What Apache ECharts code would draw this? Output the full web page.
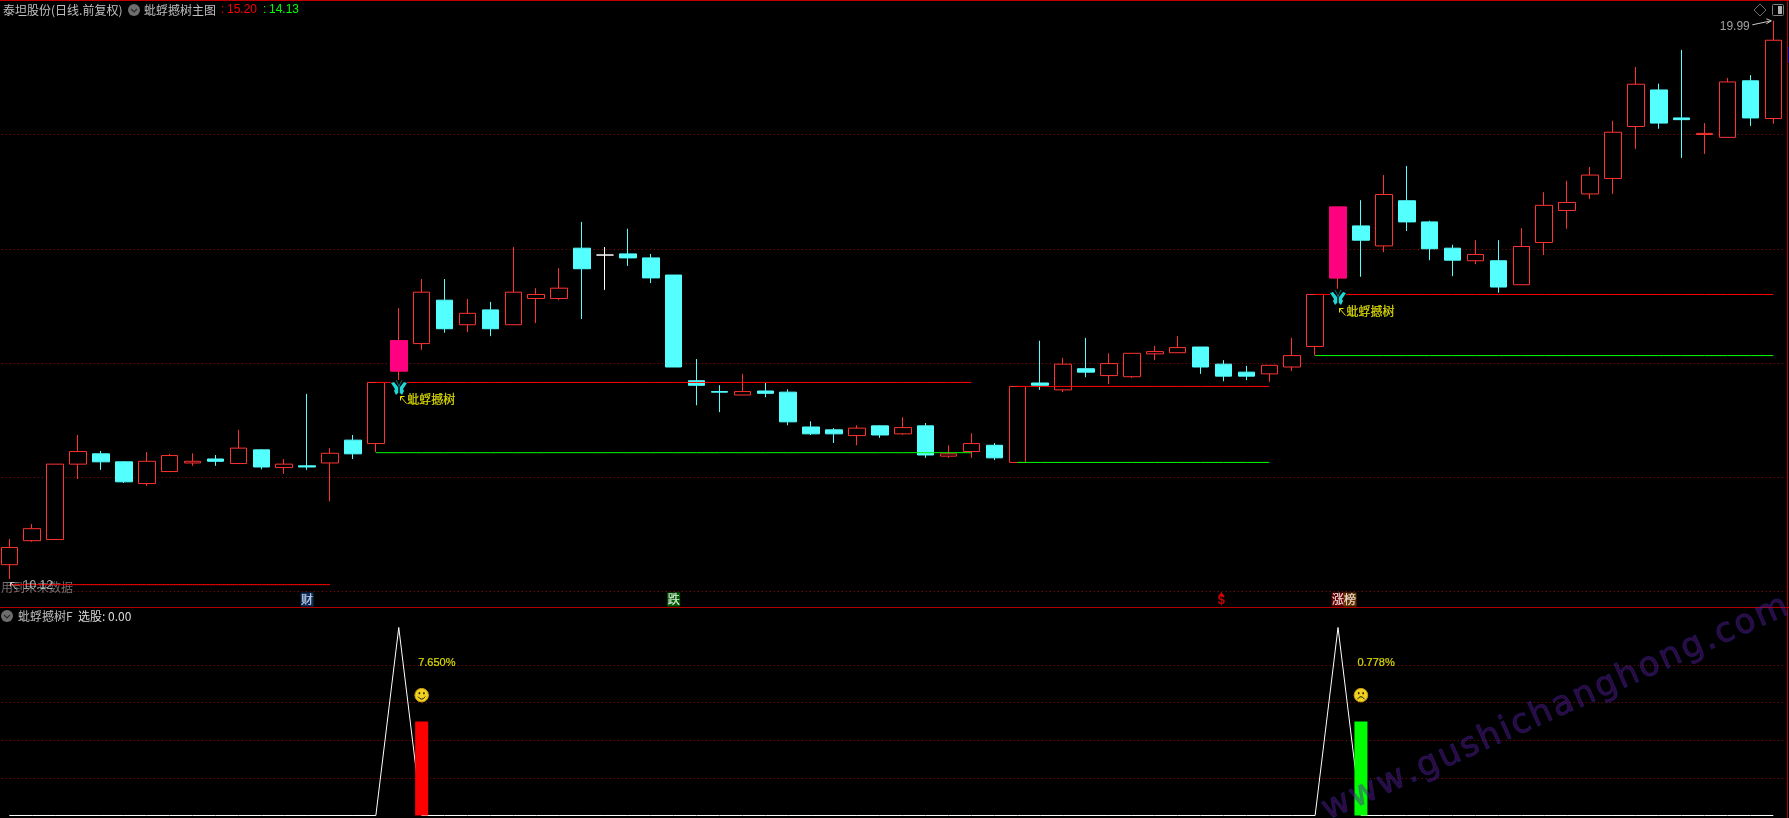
<!DOCTYPE html>
<html><head><meta charset="utf-8">
<style>html,body{margin:0;padding:0;background:#000;overflow:hidden}#c{width:1789px;height:818px}</style>
<script src="https://cdn.jsdelivr.net/npm/echarts@6/dist/echarts.min.js"></script>
</head><body><div id="c"></div>
<script>
const opens=[10.47,10.89,10.91,12.23,12.41,12.27,11.89,12.10,12.25,12.32,12.24,12.48,12.17,12.20,12.25,12.65,12.59,13.86,14.34,15.10,14.67,14.93,14.67,15.13,15.13,16.01,15.89,15.91,15.84,15.54,13.69,13.50,13.44,13.51,13.49,12.88,12.83,12.73,12.90,12.76,12.90,12.37,12.45,12.56,12.26,13.65,13.53,13.90,13.78,13.76,14.16,14.18,14.28,13.98,13.84,13.81,13.93,14.29,15.49,16.40,16.05,16.84,16.47,16.01,15.79,15.79,15.37,16.11,16.67,16.96,17.23,18.14,18.78,18.29,18.00,17.95,18.94,18.28];
const closes=[10.77,11.10,12.23,12.45,12.27,11.92,12.28,12.38,12.28,12.28,12.51,12.18,12.23,12.18,12.42,12.41,13.66,14.39,15.24,14.60,14.87,14.60,15.24,15.20,15.31,15.65,15.89,15.84,15.49,13.93,13.61,13.49,13.50,13.47,12.97,12.76,12.76,12.86,12.74,12.87,12.39,12.41,12.59,12.34,13.59,13.61,13.98,13.84,13.99,14.17,14.20,14.27,13.93,13.77,13.77,13.96,14.13,15.20,16.73,16.15,16.95,16.47,16.00,15.80,15.90,15.33,16.04,16.76,16.81,17.29,18.04,18.88,18.20,18.26,18.02,18.92,18.29,19.65];
const lows=[10.22,10.87,10.91,11.97,12.13,11.90,11.85,12.10,12.20,12.20,12.24,12.14,12.06,12.13,11.58,12.32,12.44,13.70,14.23,14.53,14.54,14.47,14.67,14.70,15.10,14.77,15.28,15.70,15.40,13.93,13.26,13.14,13.44,13.40,12.91,12.74,12.60,12.56,12.69,12.74,12.34,12.34,12.34,12.30,12.26,13.53,13.49,13.75,13.63,13.74,14.05,14.18,13.81,13.68,13.70,13.67,13.86,14.13,15.30,15.51,15.94,16.31,15.80,15.52,15.73,15.23,15.37,15.89,16.35,16.87,16.96,17.75,18.10,17.59,17.66,17.95,18.15,18.19];
const highs=[10.92,11.18,12.23,12.74,12.46,12.28,12.44,12.41,12.42,12.39,12.83,12.49,12.32,13.46,12.51,12.74,13.66,14.96,15.47,15.47,15.12,15.07,16.03,15.31,15.66,16.47,16.03,16.35,15.91,15.54,14.07,13.61,13.81,13.65,13.54,12.98,12.86,12.91,12.91,13.05,12.95,12.56,12.77,12.60,13.59,14.39,14.09,14.44,14.17,14.17,14.30,14.47,14.28,14.05,13.95,13.96,14.44,15.20,16.73,16.85,17.29,17.45,16.49,16.07,16.15,16.15,16.36,16.99,17.19,17.43,18.24,19.18,18.89,19.48,18.20,18.99,19.04,19.99];
const categories=opens.map((_,i)=>String(i+1));
const priceGrid=[10,12,14,16,18];
const signalGrid=[20,40,60,80];
const pinkCandles=[17,58];
const redFrom=[0,16,44,57], redTo=[14,42,55,77], redLevel=[10.12,13.66,13.59,15.20];
const greenFrom=[16,44,57], greenTo=[42,55,77], greenLevel=[12.43,12.26,14.13];
const whiteLine=[0,0,0,0,0,0,0,0,0,0,0,0,0,0,0,0,0,100,0,0,0,0,0,0,0,0,0,0,0,0,0,0,0,0,0,0,0,0,0,0,0,0,0,0,0,0,0,0,0,0,0,0,0,0,0,0,0,0,100,0,0,0,0,0,0,0,0,0,0,0,0,0,0,0,0,0,0,0];
const barIdx=[18,59], barValues=[50,50], barColors=['#ff0000','#00ff00'];
const pctIdx=[18,59], pctValues=[81,81], pctTexts=['7.650%','0.778%'];
const faceIdx=[18,59], faceValues=[64,64], faceHappy=[1,0];
const flyIdx=[17,58], flyPrice=[13.56,15.14];
const noteIdx=[17,58], notePrice=[13.37,14.91];
const tagIdx=[13,29,58,58], tagPrice=[9.86,9.86,9.86,9.86], tagText=['财','跌','涨','榜'];
const tagBg=['#10386c','#007000','#800000','#804000'], tagFg=['#dfe8ff','#ffffff','#ffffff','#ffffff'], tagShift=[0,0,0,12];
const watermark='www.gushichanghong.com';

const RED='#ff3232',CY='#54ffff',DOT='#9c0808';
const CJK='"Noto Sans CJK SC","Liberation Sans",sans-serif';
const NUM='"Liberation Sans",Arial,sans-serif';
const GL=-2.15,GW=1786.9;

const candleData=opens.map((o,i)=>{
  const item={value:[o,closes[i],lows[i],highs[i]]};
  if(o===closes[i]) item.itemStyle={borderColor:'#fff',borderColor0:'#fff',borderColorDoji:'#fff'};
  return item;
});
const pinkData=opens.map((o,i)=>pinkCandles.includes(i)?[o,closes[i],o,closes[i]]:['-','-','-','-']);
function levelData(from,to,lev){
  return categories.map((_,i)=>{
    for(let k=0;k<from.length;k++) if(i>=from[k]&&i<=to[k]) return lev[k];
    return '-';
  });
}
function dotted(vals){return {silent:true,symbol:'none',label:{show:false},animation:false,z:1,
  lineStyle:{color:DOT,type:[1,3],width:1,opacity:1},emphasis:{disabled:true},
  data:vals.map(v=>({yAxis:v}))};}
function textPts(idx,val,extra){return idx.map((x,k)=>Object.assign({value:[x,val[k]]},extra?extra(k):{}));}
const silentText={type:'scatter',symbolSize:1,itemStyle:{color:'rgba(0,0,0,0)'},silent:true,animation:false,z:8};

const butterfly=(params,api)=>{
  const p=api.coord([api.value(0),api.value(1)]);
  return {type:'group',x:Math.round(p[0]),y:Math.round(p[1]),children:[
    {type:'rect',shape:{x:-8,y:-8,width:16,height:15},style:{fill:'#000'}},
    {type:'polygon',shape:{points:[[-8,-5],[-5,-6],[-1,-1],[-1,5],[-3,7],[-5,3],[-4,1]]},style:{fill:'#22d6d6'}},
    {type:'polygon',shape:{points:[[8,-5],[5,-6],[1,-1],[1,5],[3,7],[5,3],[4,1]]},style:{fill:'#22d6d6'}},
    {type:'polyline',shape:{points:[[-3,-8],[0,-2],[3,-8]]},style:{stroke:'#0c6d6d',fill:null,lineWidth:1}},
    {type:'line',shape:{x1:0,y1:-3,x2:0,y2:5},style:{stroke:'#0c6d6d',lineWidth:1}}
  ]};
};
const pointer=color=>(params,api)=>{
  const p=api.coord([api.value(0),api.value(1)]);
  return {type:'group',x:Math.round(p[0])+0.5,y:Math.round(p[1])+0.5,children:[
    {type:'line',shape:{x1:7,y1:4,x2:1,y2:-3},style:{stroke:color,lineWidth:1}},
    {type:'polyline',shape:{points:[[1,1],[1,-3],[5,-3]]},style:{stroke:color,fill:null,lineWidth:1}}
  ]};
};
const face=(params,api)=>{
  const p=api.coord([api.value(0),api.value(1)]);
  const happy=api.value(2)===1;
  return {type:'group',x:p[0],y:p[1],children:[
    {type:'circle',shape:{cx:0,cy:0,r:6.8},style:{fill:'#f0d020',stroke:'#c8a010',lineWidth:1}},
    {type:'rect',shape:{x:-3,y:-3,width:1.5,height:2},style:{fill:'#201800'}},
    {type:'rect',shape:{x:1.5,y:-3,width:1.5,height:2},style:{fill:'#201800'}},
    {type:'path',shape:{pathData:happy?'M-3.5 1.5 Q0 5.5 3.5 1.5':'M-3.5 4 Q0 0.5 3.5 4',x:-3.5,y:1.5,width:7,height:2.5,layout:'cover'},style:{fill:null,stroke:'#201800',lineWidth:1}}
  ]};
};
const topArrow=(params,api)=>{
  const p=api.coord([api.value(0),api.value(1)]);
  return {type:'group',x:p[0],y:p[1],children:[
    {type:'polyline',shape:{points:[[-21,4],[-2,0],[-7,-2]]},style:{stroke:'#c8c8c8',fill:null,lineWidth:1}},
    {type:'line',shape:{x1:-2,y1:0,x2:-7,y2:3},style:{stroke:'#c8c8c8',lineWidth:1}}
  ]};
};
function watermarkGlyphs(){
  const font='34px "DejaVu Sans",sans-serif', angle=0.42;
  const ctx=document.createElement('canvas').getContext('2d');ctx.font=font;
  const widths=[...watermark].map(c=>ctx.measureText(c).width);
  const natural=widths.reduce((a,b)=>a+b,0), span=507, gap=(span-natural)/(watermark.length-1);
  let s=0;const out=[];
  [...watermark].forEach((c,i)=>{
    out.push({type:'text',x:1324+s*Math.cos(angle),y:812-s*Math.sin(angle),rotation:angle,z:30,silent:true,
      style:{text:c,font:font,textAlign:'left',textVerticalAlign:'middle',fill:'rgba(100,25,150,0.42)',stroke:'rgba(50,60,200,0.32)',lineWidth:1}});
    s+=widths[i]+gap;
  });
  return out;
}

const chart=echarts.init(document.getElementById('c'),null,{renderer:'canvas'});
const chevron=(x,y)=>[
  {type:'circle',shape:{cx:x,cy:y,r:6},style:{fill:'#6e6e6e'},z:20,silent:true},
  {type:'polyline',shape:{points:[[x-3,y-1],[x,y+2],[x+3,y-1]]},style:{stroke:'#2a2a2a',fill:null,lineWidth:1.2},z:21,silent:true}
];
const txt=(x,y,text,fill,font,size,z)=>({type:'text',x:x,y:y,z:z||20,silent:true,style:{text:text,fill:fill,font:(size||12)+'px '+(font||CJK),textVerticalAlign:'middle',textAlign:'left'}});
chart.setOption({
  backgroundColor:'#000',animation:false,
  grid:[{left:GL,width:GW,top:1,height:606,outerBoundsMode:'none'},{left:GL,width:GW,top:608,height:210,outerBoundsMode:'none'}],
  xAxis:[{type:'category',data:categories,gridIndex:0,show:false},{type:'category',data:categories,gridIndex:1,show:false}],
  yAxis:[{type:'value',gridIndex:0,min:9.729,max:20.337,show:false,splitLine:{show:false}},
         {type:'value',gridIndex:1,min:-1.33,max:110.37,show:false,splitLine:{show:false}}],
  series:[
    {type:'candlestick',name:'K',data:candleData,barWidth:17,z:3,silent:true,animation:false,
      itemStyle:{color:'#000',color0:CY,borderColor:RED,borderColor0:CY,borderColorDoji:'#fff',borderWidth:1},
      markLine:dotted(priceGrid)},
    {type:'candlestick',name:'signal',data:pinkData,barWidth:18,z:4,silent:true,animation:false,
      itemStyle:{color:'#ff0080',color0:'#ff0080',borderColor:'#ff0080',borderColor0:'#ff0080',borderWidth:1}},
    {type:'line',name:'upper',data:levelData(redFrom,redTo,redLevel),showSymbol:false,silent:true,animation:false,connectNulls:false,z:5,lineStyle:{color:'#ff0000',width:1}},
    {type:'line',name:'lower',data:levelData(greenFrom,greenTo,greenLevel),showSymbol:false,silent:true,animation:false,connectNulls:false,z:5,lineStyle:{color:'#00ff00',width:1}},
    {type:'custom',name:'fly',data:flyIdx.map((x,k)=>[x,flyPrice[k]]),renderItem:butterfly,silent:true,animation:false,z:6},
    {type:'custom',name:'top',data:[[77,19.99]],renderItem:topArrow,silent:true,animation:false,z:6},
    {type:'custom',name:'notePointer',data:noteIdx.map((x,k)=>[x,notePrice[k]]),renderItem:pointer('#e8e000'),silent:true,animation:false,z:7},
    {type:'custom',name:'lowPointer',data:[[0,10.12]],renderItem:pointer('#c8c8c8'),silent:true,animation:false,z:7},
    Object.assign({},silentText,{name:'notes',data:textPts(noteIdx,notePrice),
      label:{show:true,position:'right',distance:0,offset:[8,0],formatter:'蚍蜉撼树',color:'#ffff00',fontSize:12,fontFamily:CJK,textBorderColor:'#ffff00',textBorderWidth:0.2}}),
    Object.assign({},silentText,{name:'hi',data:[[77,19.99]],
      label:{show:true,position:'left',distance:0,offset:[-23,6],formatter:'19.99',color:'#c8c8c8',fontFamily:NUM,fontSize:12}}),
    Object.assign({},silentText,{name:'lo',data:[[0,10.12]],
      label:{show:true,position:'right',distance:0,offset:[13,1],formatter:'10.12',color:'#c8c8c8',fontFamily:NUM,fontSize:12}}),
    Object.assign({},silentText,{name:'tags',data:textPts(tagIdx,tagPrice,k=>({
      label:{show:true,position:'inside',offset:[tagShift[k],0],formatter:tagText[k],color:tagFg[k],backgroundColor:tagBg[k],padding:[1,0,0,0],width:13,align:'center',fontFamily:CJK,fontSize:12,lineHeight:13,textBorderColor:tagFg[k],textBorderWidth:0.2}}))}),
    {type:'scatter',name:'dollarTop',data:[[53,9.956]],symbol:'triangle',symbolSize:[6,4],symbolOffset:[-2,0],silent:true,animation:false,itemStyle:{color:'#ff0000'},z:8},
    Object.assign({},silentText,{name:'dollar',data:[[53,9.85]],
      label:{show:true,position:'inside',offset:[-2,0],formatter:'$',color:'#ff0000',fontWeight:'bold',fontFamily:NUM,fontSize:13}}),

    {type:'line',name:'sel',xAxisIndex:1,yAxisIndex:1,data:whiteLine,showSymbol:false,silent:true,animation:false,z:3,
      lineStyle:{color:'#ffffff',width:1},markLine:dotted(signalGrid)},
    {type:'bar',name:'pct',xAxisIndex:1,yAxisIndex:1,barWidth:13,silent:true,animation:false,z:4,
      data:categories.map((_,i)=>{const k=barIdx.indexOf(i);return k<0?'-':{value:barValues[k],itemStyle:{color:barColors[k]}};})},
    {type:'custom',name:'face',xAxisIndex:1,yAxisIndex:1,data:faceIdx.map((x,k)=>[x,faceValues[k],faceHappy[k]]),renderItem:face,silent:true,animation:false,z:6},
    Object.assign({},silentText,{name:'pctText',xAxisIndex:1,yAxisIndex:1,data:textPts(pctIdx,pctValues,k=>({
      label:{show:true,position:'right',distance:0,offset:[-4,0],formatter:pctTexts[k],color:'#ffff00',fontFamily:NUM,fontSize:11,textBorderColor:'#ffff00',textBorderWidth:0.2}}))})
  ],
  graphic:[
    {type:'rect',shape:{x:0,y:0,width:1789,height:1},style:{fill:'#c00000'},z:20,silent:true},
    {type:'rect',shape:{x:0,y:607,width:1789,height:1},style:{fill:'#b00000'},z:20,silent:true},
    {type:'rect',shape:{x:1787,y:0,width:1,height:818},style:{fill:'#b00000'},z:20,silent:true},
    {type:'rect',shape:{x:1788,y:47,width:1,height:16},style:{fill:'#000090'},z:20,silent:true},
    txt(3,10,'泰坦股份(日线.前复权)','#c0c0c0'),
    ...chevron(134,10),
    txt(144,10,'蚍蜉撼树主图','#c0c0c0'),
    txt(221,10,':','#ff0000',NUM),txt(227,10,'15.20','#ff0000',NUM),
    txt(263,10,':','#00ff00',NUM),txt(269,10,'14.13','#00ff00',NUM),
    ...chevron(7,616),
    txt(18,616,'蚍蜉撼树F','#c0c0c0'),
    txt(78,616,'选股: 0.00','#dcdcdc'),
    txt(1,587,'用到未来数据','#707070',CJK,12,2),
    {type:'polygon',shape:{points:[[1760,4],[1766,10],[1760,16],[1754,10]]},style:{stroke:'#6a6a6a',fill:null,lineWidth:1},z:20,silent:true},
    {type:'rect',shape:{x:1772.5,y:4.5,width:11,height:11,r:1},style:{stroke:'#808080',fill:null,lineWidth:1},z:20,silent:true},
    {type:'rect',shape:{x:1778,y:6,width:4,height:8},style:{fill:'#b0b0b0'},z:20,silent:true},
    ...watermarkGlyphs()
  ]
});
</script></body></html>
